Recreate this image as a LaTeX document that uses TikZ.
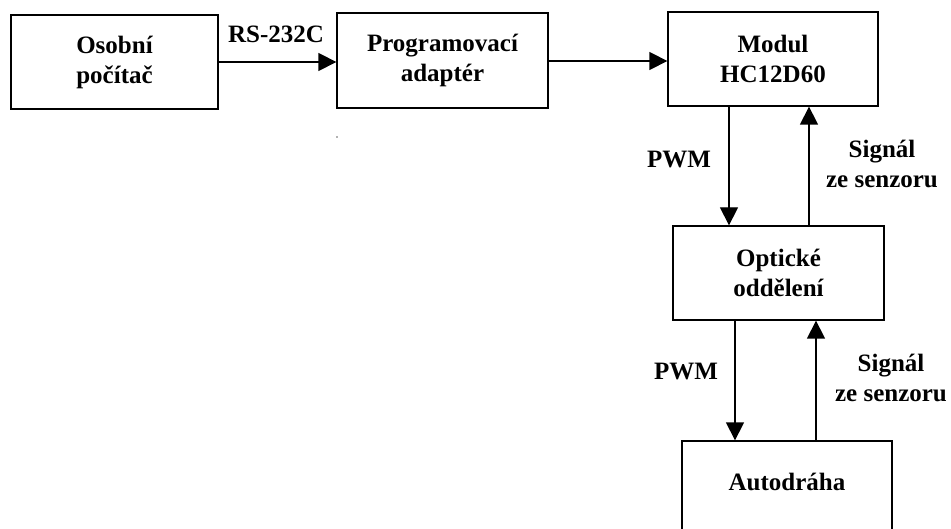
\documentclass[tikz,border=0pt]{standalone}
\usepackage{fontspec}
\setmainfont{Liberation Serif}
\usetikzlibrary{arrows.meta}
\begin{document}
\begin{tikzpicture}[x=1pt,y=-1pt,
  every node/.style={font=\fontsize{25}{30}\selectfont\bfseries},
  blockbox/.style={draw, line width=1.3pt, align=center, inner sep=0pt},
  arr/.style={line width=1.3pt, -{Triangle[length=18pt,width=18pt]}},
  lbl/.style={align=center, inner sep=0pt}]
\fill[white] (0,0) rectangle (951,529);
\clip (0,0) rectangle (951,529);
\node[blockbox, minimum width=207pt, minimum height=94pt] (pc) at (114.5,62) {Osobní\\počítač};
\node[blockbox, minimum width=211pt, minimum height=95pt] (ad) at (442.5,60.5) {Programovací\\adaptér};
\node[blockbox, minimum width=210pt, minimum height=94pt] (mod) at (773,59) {Modul\\HC12D60};
\node[blockbox, minimum width=211pt, minimum height=94pt] (opt) at (778.5,273) {Optické\\oddělení};
\node[blockbox, minimum width=210pt, minimum height=94pt] (auto) at (787,488) {Autodráha\rule[-12pt]{0pt}{0pt}};
\draw[arr] (pc.east |- 0,62) -- (ad.west |- 0,62);
\draw[arr] (ad.east |- 0,61) -- (mod.west |- 0,61);
\draw[arr] (mod.south -| 729,0) -- (opt.north -| 729,0);
\draw[arr] (opt.north -| 809,0) -- (mod.south -| 809,0);
\draw[arr] (opt.south -| 735,0) -- (auto.north -| 735,0);
\draw[arr] (auto.north -| 816,0) -- (opt.south -| 816,0);
\node[lbl] (rs) at (276,34) {RS-232C};
\node[lbl] (pwm1) at (679,160) {PWM};
\node[lbl] (sig1) at (882,164) {Signál\\ze senzoru};
\node[lbl] (pwm2) at (686,372) {PWM};
\node[lbl] (sig2) at (891,378) {Signál\\ze senzoru};
\fill[black!60] (337,137) circle (0.8pt);
\end{tikzpicture}
\end{document}
